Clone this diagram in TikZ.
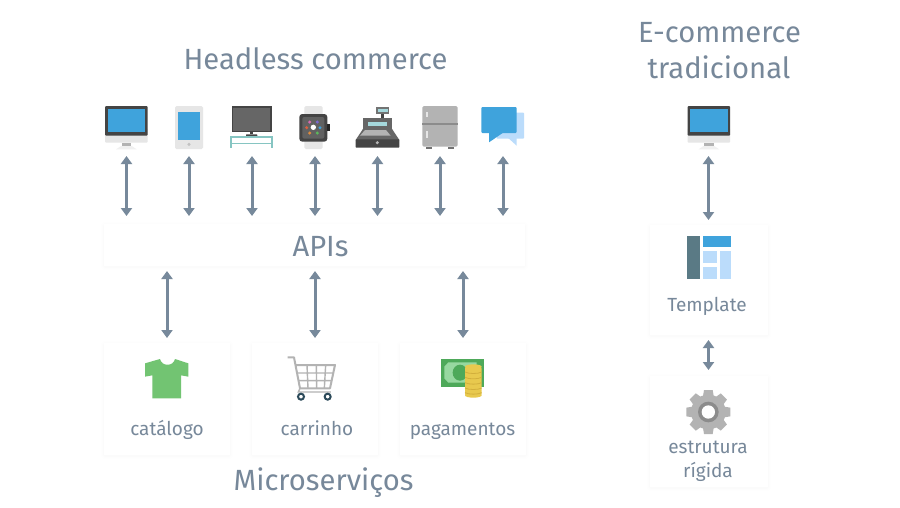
\documentclass[tikz,border=0pt]{standalone}
\usepackage{fontspec}
\setmainfont{Fira Sans}[Ligatures=TeX]
\usetikzlibrary{arrows.meta}
\definecolor{txt}{HTML}{77889A}
\definecolor{arr}{HTML}{77899B}
\definecolor{blue1}{HTML}{3FA3DC}
\definecolor{lblue}{HTML}{BBDCFB}
\definecolor{lgray}{HTML}{E6E6E6}
\definecolor{midg}{HTML}{B3B3B3}
\definecolor{dark}{HTML}{444444}
\definecolor{teal1}{HTML}{86C5C2}
\definecolor{tealb}{HTML}{A5D8DC}
\definecolor{shirt}{HTML}{72C472}
\definecolor{wheel}{HTML}{2C4A5A}
\definecolor{cash}{HTML}{4EA95A}
\definecolor{cashl}{HTML}{97D8A0}
\definecolor{coin}{HTML}{E8C94E}
\definecolor{coind}{HTML}{D2AF3C}
\definecolor{tplbar}{HTML}{5A7A85}
\definecolor{dpink}{HTML}{D66BB0}
\definecolor{dpurp}{HTML}{7B68D0}
\definecolor{dred}{HTML}{D9603F}
\definecolor{dblue}{HTML}{3FA3DC}
\definecolor{doran}{HTML}{E08A3C}
\definecolor{dgreen}{HTML}{5CB85C}
\tikzset{
  every node/.style={inner sep=0pt,outer sep=0pt},
  title/.style={anchor=base,text=txt,font=\fontsize{29.2}{34}\selectfont},
  label/.style={anchor=base,text=txt,font=\fontsize{19}{23}\selectfont},
  icon/.style={minimum width=40,minimum height=50},
  link/.style={draw=arr,line width=3,{Triangle[width=11,length=8]}-{Triangle[width=11,length=8]}},
  z/.style={shift={(#1)},scale=1/3},
}
\newcommand{\softcard}[5]{% name, cx, cy, w, h
  \foreach \g/\o in {3/.004,2/.005,1/.007}{
    \fill[black,opacity=\o,rounded corners=3] (#2-#4/2-\g,#3-#5/2-\g+1) rectangle (#2+#4/2+\g,#3+#5/2+\g+1);}
  \node[fill=white,minimum width=#4,minimum height=#5] (#1) at (#2,#3) {};
}
\newcommand{\imac}[1]{\begin{scope}[z={#1}]
  \fill[lgray,rounded corners=1] (30,100) rectangle (158,143);
  \fill[dark,rounded corners=1] (30,33) rectangle (158,122);
  \fill[blue1] (38,42) rectangle (150,112);
  \fill[midg] (80,143) rectangle (108,153);
  \fill[lgray!60] (78,153) -- (110,153) -- (125,163) -- (63,163) -- cycle;
\end{scope}}
\begin{document}
\begin{tikzpicture}[x=1pt,y=-1pt]
\useasboundingbox (0,0) rectangle (900,507);
\fill[white] (0,0) rectangle (900,507);
% cards
\softcard{apis}{314.5}{245}{421}{42}
\softcard{cat}{167}{399}{126}{112}
\softcard{car}{315}{399}{126}{112}
\softcard{pag}{463}{399}{126}{112}
\softcard{tpl}{709}{280}{118}{110}
\softcard{est}{709}{431.5}{118}{111}
% titles
\node[title] (t1) at (315.5,69) {Headless commerce};
\node[title] (t2) at (719.5,42) {E-commerce};
\node[title] (t3) at (719,78) {tradicional};
\node[title] (t4) at (320.5,256) {APIs};
\node[title] (t5) at (323.5,490) {Microserviços};
\node[label] (l1) at (167,435) {catálogo};
\node[label] (l2) at (317,435) {carrinho};
\node[label] (l3) at (462.5,435) {pagamentos};
\node[label] (l4) at (707,311.5) {Template};
\node[label] (l5) at (708,453.5) {estrutura};
\node[label] (l6) at (708,477.5) {rígida};
% icon anchors
\foreach \n/\x in {i1/126.5,i2/189,i3/252,i4/315,i5/377.5,i6/440,i7/503,i8/708.5}
  \node[icon] (\n) at (\x,131) {};
% icons
\imac{95,95}
\imac{677.5,95}
\begin{scope}[z={95,95}]
  % tablet
  \fill[lgray,rounded corners=1.5] (240,33) rectangle (324,162);
  \fill[blue1] (248,50) rectangle (316,134);
  \fill[midg!80] (282,148) circle (5);
  % tv
  \fill[dark] (411,34) rectangle (530,112);
  \fill[black!60] (415,38) rectangle (526,108);
  \fill[dark] (465,112) rectangle (475,118);
  \fill[dark,rounded corners=.5] (453,118) rectangle (487,124);
  \fill[teal1] (406,124) rectangle (535,130);
  \fill[teal1] (406,143) rectangle (535,148);
  \fill[teal1] (406,124) rectangle (412,160);
  \fill[teal1] (529,124) rectangle (535,160);
  % watch
  \fill[lgray,rounded corners=1.5] (628,33) rectangle (683,162);
  \fill[dark,rounded corners=3] (613,57) rectangle (697,140);
  \fill[black!62,rounded corners=2] (622,66) rectangle (688,131);
  \fill[black!85] (697,87) rectangle (706,108);
  \fill[white] (655,97) circle (8);
  \fill[dpink] (644,81) circle (5);
  \fill[dpurp] (667,81) circle (5);
  \fill[dred] (635,98) circle (5);
  \fill[dblue] (675,98) circle (5);
  \fill[doran] (644,114) circle (5);
  \fill[dgreen] (667,114) circle (5);
\end{scope}
\begin{scope}[z={310,95}]
  % cash register
  \fill[black!55] (198,37) rectangle (238,57);
  \fill[tealb] (203,42) rectangle (233,52);
  \fill[dark] (213,57) rectangle (223,70);
  \fill[black!60] (160,70) rectangle (245,105);
  \fill[tealb] (173,80) rectangle (232,93);
  \fill[black!60] (160,100) -- (245,100) -- (268,135) -- (137,135) -- cycle;
  \fill[midg] (165,105) -- (228,105) -- (242,122) -- (150,122) -- cycle;
  \fill[dark,rounded corners=.7] (137,133) rectangle (268,158);
  \fill[midg] (202,143) circle (5);
  % fridge
  \fill[midg,rounded corners=1.5] (337,33) rectangle (443,155);
  \fill[black!45] (337,85) rectangle (443,90);
  \fill[lgray] (347,50) rectangle (354,67);
  \fill[lgray] (347,107) rectangle (354,128);
  \fill[black!55] (347,155) rectangle (365,162);
  \fill[black!55] (415,155) rectangle (432,162);
  % chat
  \fill[lblue,rounded corners=.7] (560,53) rectangle (642,131);
  \fill[lblue] (578,114) -- (620,152) -- (620,120) -- cycle;
  \fill[blue1,rounded corners=1] (514,36) rectangle (620,114);
  \fill[blue1] (537,110) -- (537,142) -- (578,114) -- cycle;
\end{scope}
\begin{scope}[z={95,340}]
  % shirt
  \fill[shirt] (195,57) .. controls (200,80) and (235,80) .. (240,57) -- (280,70) -- (280,110) -- (258,106) -- (258,175) -- (172,175) -- (172,106) -- (150,110) -- (150,70) -- cycle;
  % cart
  \draw[midg,line width=2,line join=round] (578,52) -- (597,52) -- (615,145) -- (705,145) -- (720,75) -- (601,75);
  \draw[midg,line width=1.4]
    (605,99) -- (716,99) (610,122) -- (711,122)
    (636,75) -- (639,145) (664,75) -- (665,145) (692,75) -- (688,145);
  \draw[midg,line width=1.4] (615,145) -- (610,156) -- (708,156);
  \draw[wheel,line width=2,fill=white] (618,170) circle (9);
  \draw[wheel,line width=2,fill=white] (698,170) circle (9);
\end{scope}
\begin{scope}[z={395,340}]
  % money
  \fill[cash] (138,56) rectangle (268,140);
  \fill[cashl] (160,67) -- (245,67) -- (245,128) -- (160,128) -- (148,115) -- (148,80) -- cycle;
  \fill[cash] (195,98) ellipse (22 and 24);
  \fill[coin,rounded corners=2] (210,80) rectangle (260,168);
  \fill[coin] (235,80) ellipse (25 and 7);
  \fill[coin] (235,166) ellipse (25 and 7);
  \foreach \y in {96,112,128,144,158}
    \draw[coind,line width=.8] (210,\y) .. controls (220,\y+6) and (250,\y+6) .. (260,\y);
\end{scope}
\begin{scope}[z={640,225}]
  % template
  \fill[tplbar] (142,33) rectangle (180,162);
  \fill[blue1] (190,33) rectangle (272,67);
  \fill[lblue] (190,77) rectangle (232,115);
  \fill[lblue] (190,125) rectangle (232,162);
  \fill[lblue] (240,77) rectangle (272,162);
  % gear
  \foreach \a in {0,45,...,315}
    \fill[midg,rotate around={\a:(205,561)}] (192,495) -- (218,495) -- (223,525) -- (187,525) -- cycle;
  \fill[midg] (205,561) circle (52);
  \fill[black!45] (205,561) circle (31);
  \fill[white] (205,561) circle (20);
\end{scope}
% connectors
\foreach \n in {i1,i2,i3,i4,i5,i6,i7}
  \draw[link,shorten >=8] (\n.south) -- (\n.south |- apis.north);
\foreach \n in {cat,car,pag}
  \draw[link,shorten <=5,shorten >=5] (\n.north |- apis.south) -- (\n.north);
\draw[link,shorten >=5] (i8.south) -- (i8.south |- tpl.north);
\draw[link,shorten <=5,shorten >=6] (tpl.south -| i8.south) -- (est.north -| i8.south);
\end{tikzpicture}
\end{document}
